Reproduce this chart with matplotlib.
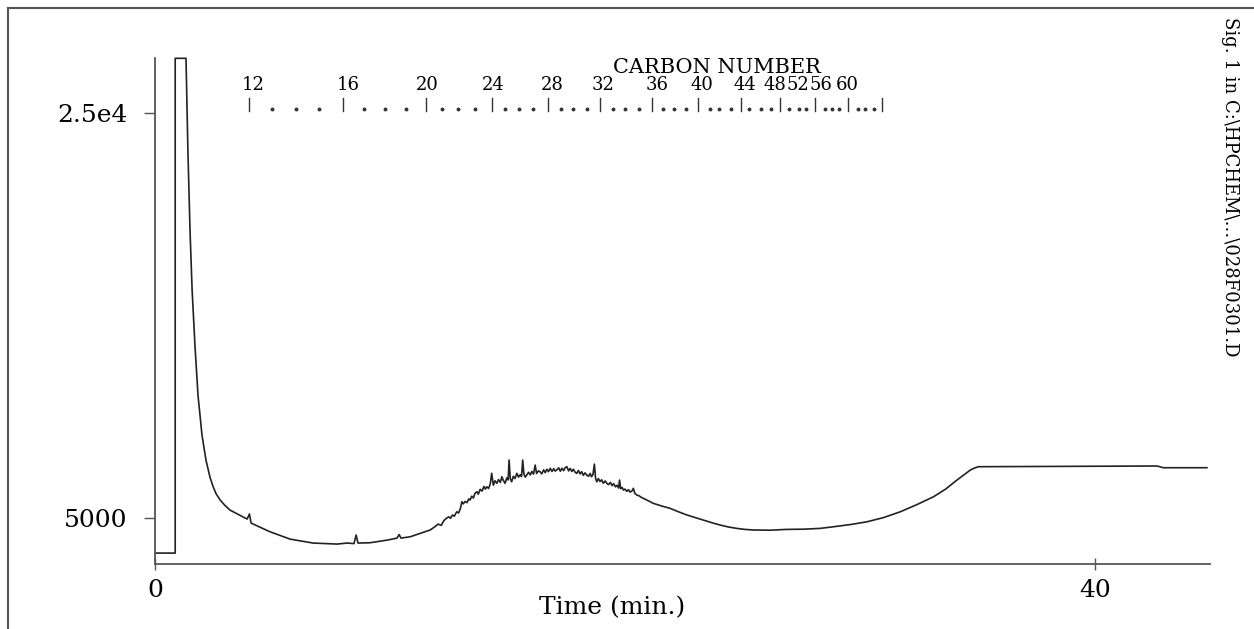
import numpy as np
import matplotlib.pyplot as plt
import matplotlib.transforms as mtransforms
from matplotlib.lines import Line2D

# signal: solvent front and early baseline
t_front = [0.0, 0.86, 0.86, 1.32, 1.40, 1.49, 1.58, 1.70, 1.83, 2.00, 2.17, 2.34, 2.47, 2.60,
           2.78, 2.98, 3.19, 3.92, 4.02, 4.09, 4.90, 5.75, 6.73, 7.75, 8.17, 8.47, 8.56, 8.64,
           9.15, 9.88, 10.30, 10.39, 10.47, 10.86, 11.71, 11.90, 12.05, 12.18, 12.30]
s_front = [3270, 3270, 27700, 27700, 23170, 19220, 16260, 13540, 11070, 9100, 7860, 7020, 6560, 6200,
           5880, 5620, 5395, 4950, 5200, 4750, 4320, 3960, 3765, 3715, 3765, 3740, 4160, 3765,
           3780, 3910, 4010, 4185, 4010, 4075, 4410, 4560, 4700, 4640, 4880]

# unresolved hump with its small peaks
t_hump = [12.40, 12.50, 12.58, 12.66, 12.74, 12.84, 12.92, 13.00, 13.06, 13.12, 13.20, 13.28,
          13.36, 13.41, 13.48, 13.55, 13.62, 13.70, 13.76, 13.84, 13.92, 14.00, 14.06, 14.12,
          14.20, 14.27, 14.33, 14.40, 14.47, 14.55, 14.62, 14.70, 14.76, 14.83, 14.90, 14.97,
          15.03, 15.07, 15.12, 15.18, 15.25, 15.32, 15.40, 15.47, 15.54, 15.60, 15.65, 15.70,
          15.76, 15.82, 15.90, 15.97, 16.04, 16.11, 16.18, 16.24, 16.32, 16.39, 16.46, 16.54,
          16.61, 16.68, 16.75, 16.82, 16.90, 16.97, 17.03, 17.10, 17.18, 17.25, 17.32, 17.39,
          17.46, 17.53, 17.60, 17.67, 17.74, 17.81, 17.88, 17.95, 18.02, 18.09, 18.16, 18.23,
          18.30, 18.38, 18.45, 18.52, 18.58, 18.64, 18.70, 18.75, 18.80, 18.87, 18.94, 19.01,
          19.08, 19.16, 19.23, 19.30, 19.38, 19.45, 19.52, 19.60, 19.67, 19.73, 19.77, 19.82,
          19.88, 19.94, 20.00, 20.08, 20.15, 20.22, 20.30, 20.36, 20.42, 20.51, 20.60, 20.70,
          20.95]
s_hump = [4985, 5060, 4990, 5150, 5090, 5310, 5250, 5480, 5805, 5700, 5820, 5760,
          5950, 5890, 6080, 5990, 6220, 6300, 6180, 6420, 6330, 6560, 6430, 6545,
          6460, 6700, 7210, 6620, 6840, 6715, 6900, 6760, 7040, 6850, 6715, 6980,
          6880, 7865, 6950, 6790, 7060, 6950, 7210, 7020, 7140, 7050, 7865, 7180,
          7020, 7125, 7260, 7130, 7300, 7170, 7615, 7200, 7330, 7285, 7180, 7380,
          7240, 7410, 7290, 7455, 7300, 7440, 7320, 7370, 7480, 7310, 7460, 7340,
          7490, 7535, 7330, 7450, 7300, 7410, 7260, 7210, 7350, 7180, 7290, 7110,
          7230, 7125, 7060, 7200, 7040, 7150, 7665, 6980, 6790, 6950, 6800, 6890,
          6720, 6830, 6715, 6650, 6760, 6600, 6700, 6540, 6620, 6480, 6875, 6450,
          6510, 6380, 6430, 6320, 6400, 6280, 6340, 6465, 6220, 6135, 6100, 6020,
          5880]

# late baseline, bake-out rise and plateau
t_tail = [21.21, 21.55, 21.92, 22.30, 22.64, 23.00, 23.34, 23.70, 24.05, 24.40, 24.76, 25.10,
          25.47, 26.20, 26.89, 27.60, 28.31, 28.88, 29.60, 30.30, 31.00, 31.72, 32.40, 33.13,
          33.65, 34.13, 34.45, 34.70, 34.88, 35.05, 42.64, 42.92, 44.77]
s_tail = [5725, 5600, 5480, 5300, 5150, 5020, 4900, 4770, 4655, 4560, 4490, 4440,
          4410, 4400, 4440, 4450, 4490, 4570, 4680, 4815, 5020, 5310, 5650, 6050,
          6430, 6875, 7150, 7370, 7470, 7535, 7570, 7485, 7485]

# carbon number scale (retention times, min)
carbon_numbers = list(range(12, 61))
carbon_rt = [4.00, 5.0, 6.0, 7.0, 8.00, 8.9, 9.8, 10.7, 11.54, 12.2, 12.9, 13.6,
             14.33, 14.9, 15.5, 16.1, 16.73, 17.3, 17.8, 18.4, 18.94, 19.5, 20.0, 20.6,
             21.15, 21.6, 22.1, 22.6, 23.10, 23.6, 24.0, 24.5, 24.93, 25.3, 25.8, 26.2,
             26.60, 27.0, 27.4, 27.7, 28.10, 28.5, 28.8, 29.1, 29.50, 29.9, 30.2, 30.6,
             30.94]
carbon_labels = ["12", "16", "20", "24", "28", "32", "36", "40", "44", "48", "52", "56", "60"]
carbon_label_t = [4.17, 8.22, 11.58, 14.39, 16.90, 19.07, 21.37, 23.28, 25.12, 26.39, 27.37, 28.36, 29.46]

time_min = np.concatenate([t_front, t_hump, t_tail])
signal = np.concatenate([s_front, s_hump, s_tail])

plt.rcParams["font.family"] = ["DejaVu Serif"]

fig = plt.figure(figsize=(12.54, 6.29), dpi=100)
ax = fig.add_axes([0.1236, 0.1033, 0.8413, 0.8045])

ax.plot(time_min, signal, color="#222222", lw=1.2, clip_on=False)
ax.set_xlim(0, 44.9)
ax.set_ylim(2730, 27716)

for side in ["top", "right"]:
    ax.spines[side].set_visible(False)
for side in ["left", "bottom"]:
    ax.spines[side].set_color("#555555")
    ax.spines[side].set_linewidth(1.3)

ax.set_xticks([0, 40])
ax.set_yticks([5000, 25000])
ax.set_yticklabels(["5000", "2.5e4"])
ax.tick_params(axis="y", direction="out", length=8, width=1, pad=12, labelsize=18, color="#555555")
ax.tick_params(axis="x", direction="inout", length=8, width=1, pad=7, labelsize=18, color="#555555")

ax.set_xlabel("Time (min.)", fontsize=18, va="center")
ax.xaxis.set_label_coords(0.433, -0.087)

# carbon number ruler
trans = mtransforms.blended_transform_factory(ax.transData, ax.transAxes)
for c, t in zip(carbon_numbers, carbon_rt):
    if c % 4 == 0:
        ax.plot([t, t], [0.895, 0.921], transform=trans, color="#333333", lw=1)
    else:
        ax.plot(t, 0.90, transform=trans, marker="o", ms=1.8, color="#333333", ls="none")
for lab, t in zip(carbon_labels, carbon_label_t):
    ax.text(t, 0.947, lab, transform=trans, ha="center", va="center", fontsize=13)
ax.text(23.9, 0.982, "CARBON NUMBER", transform=trans, ha="center", va="center", fontsize=15)

fig.text(1230 / 1254, 1 - 187 / 629, r"Sig. 1 in C:\HPCHEM\...\028F0301.D",
         rotation=-90, ha="center", va="center", fontsize=13)

# page frame
fig.add_artist(Line2D([8 / 1254, 8 / 1254], [0, 1 - 8 / 629], transform=fig.transFigure,
                      color="#555555", lw=1.5))
fig.add_artist(Line2D([8 / 1254, 1], [1 - 8 / 629, 1 - 8 / 629], transform=fig.transFigure,
                      color="#555555", lw=1.5))

fig.savefig("out.png", dpi=100)
